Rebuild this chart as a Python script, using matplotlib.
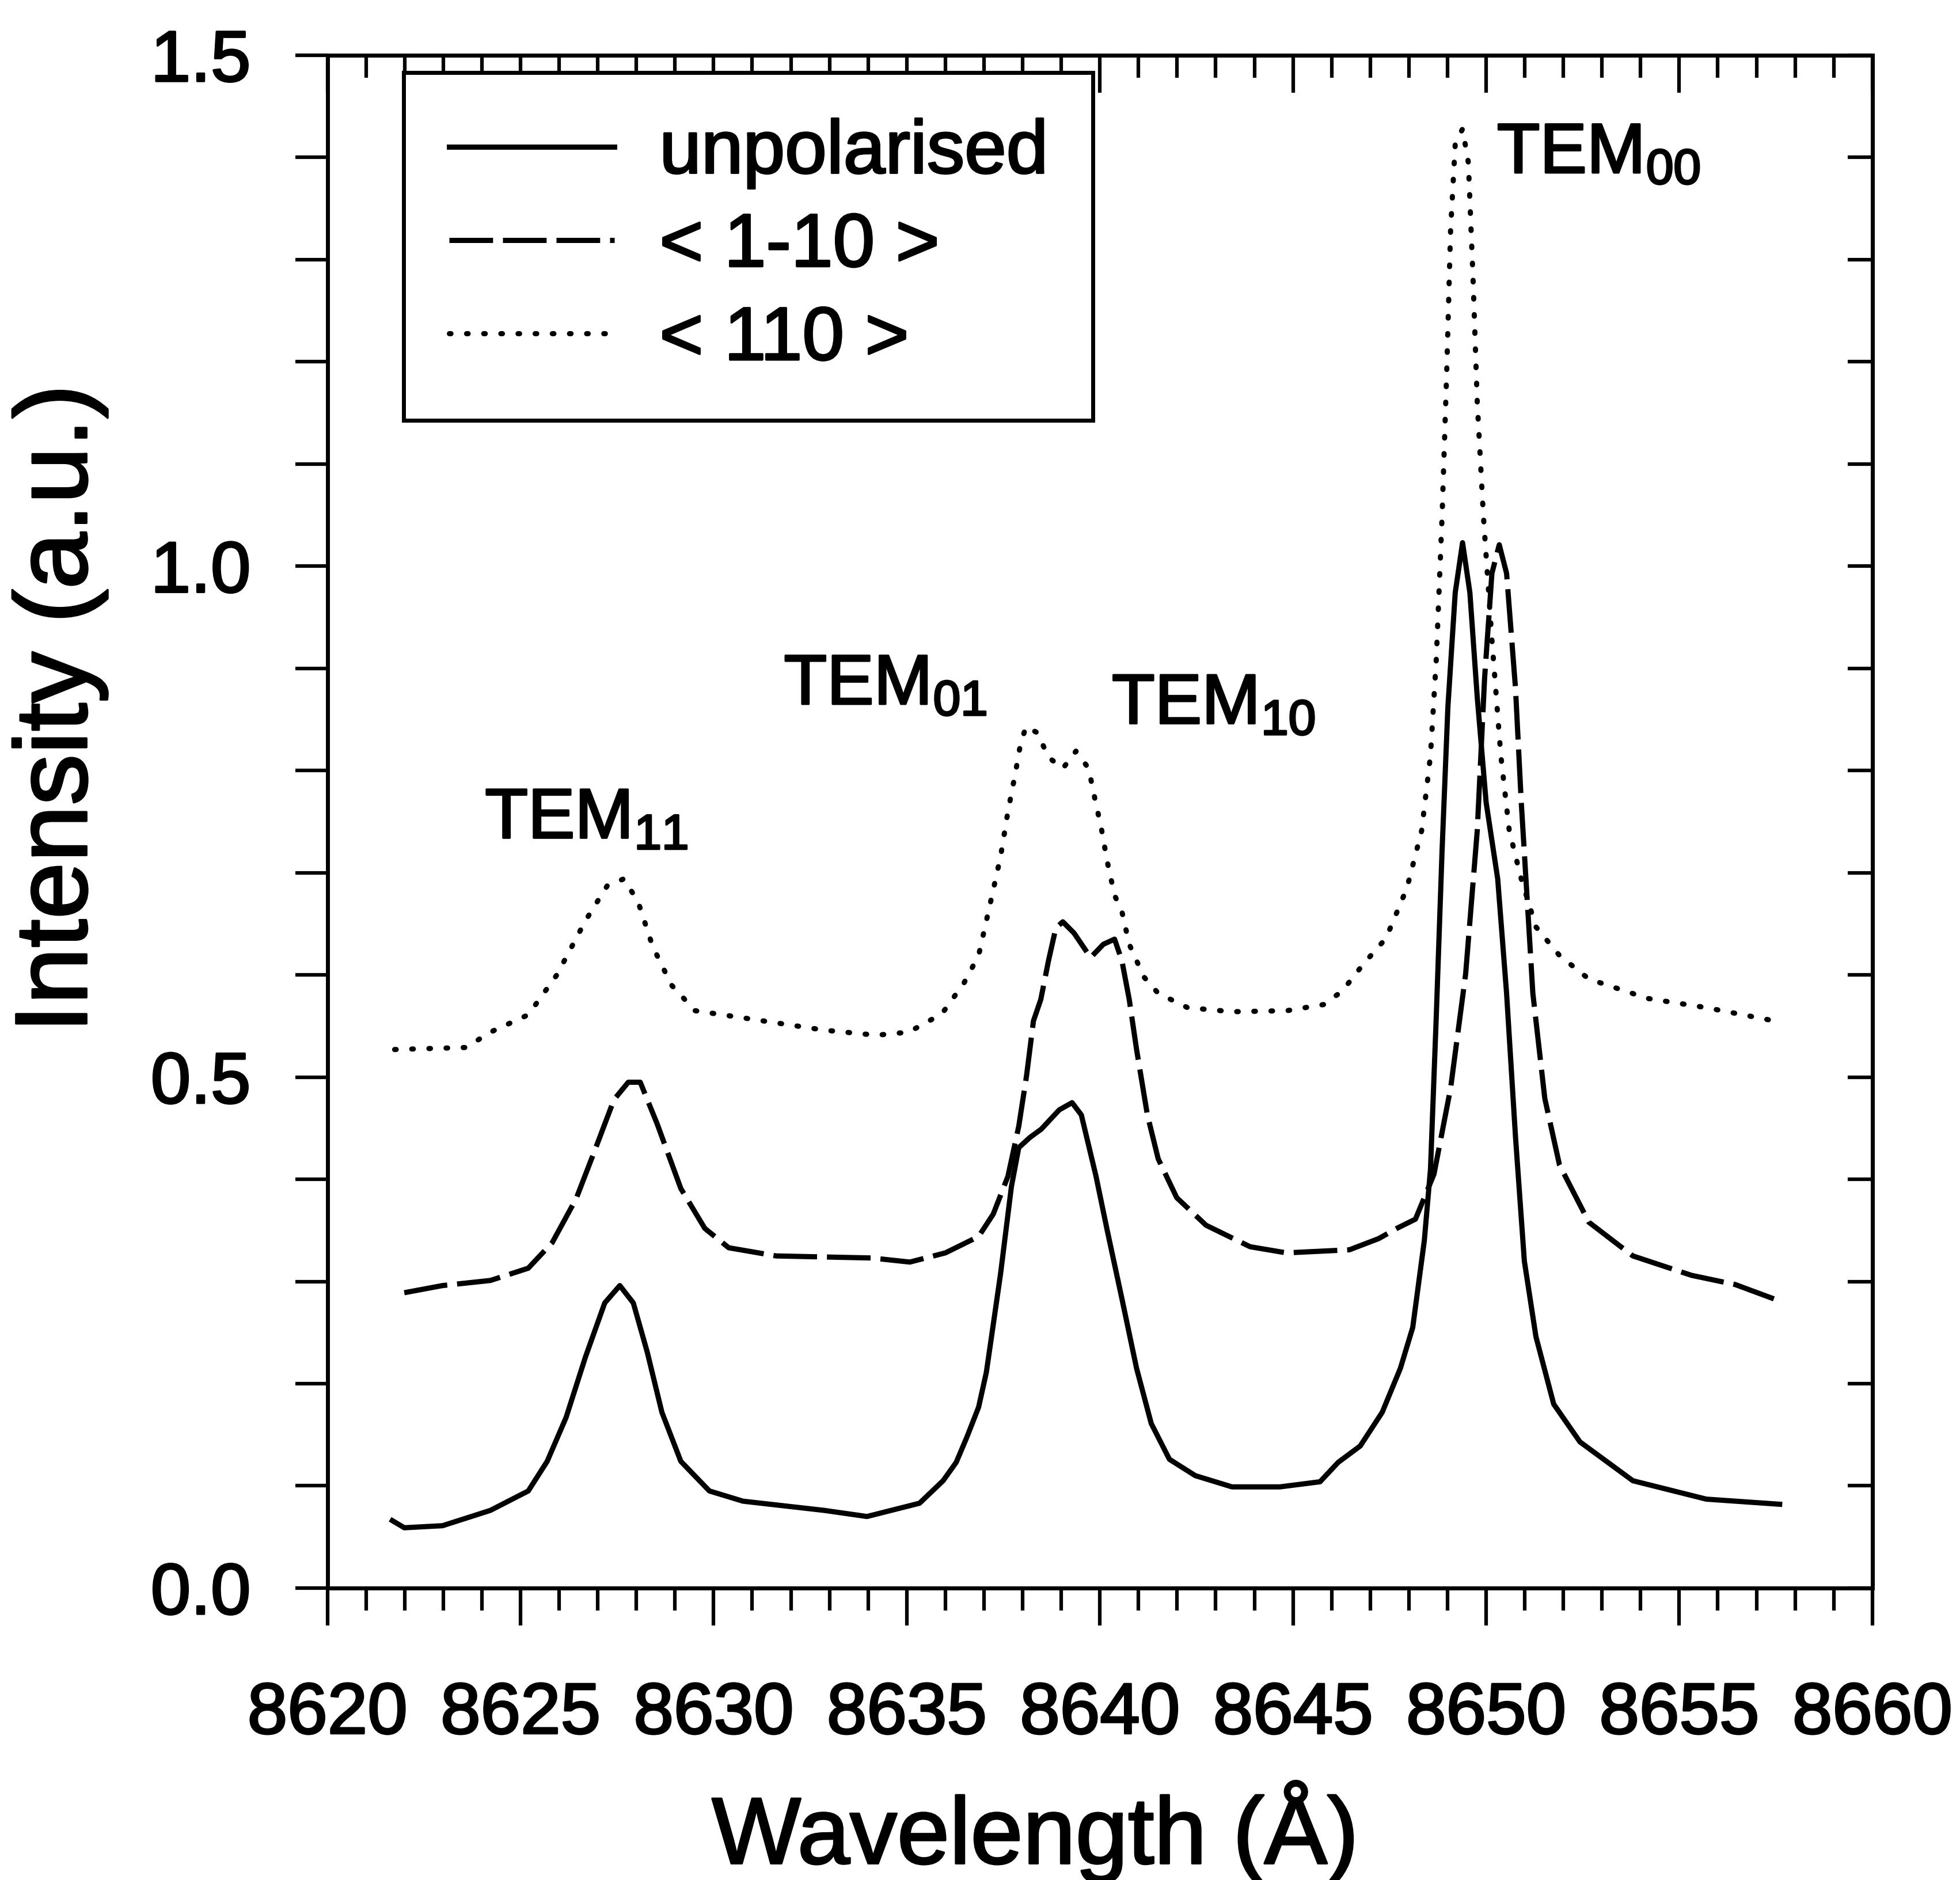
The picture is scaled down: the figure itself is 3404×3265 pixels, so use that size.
import numpy as np
import matplotlib
matplotlib.use('Agg')
import matplotlib.pyplot as plt
import matplotlib.patheffects as pe
from matplotlib.ticker import MultipleLocator, FormatStrFormatter

plt.rcParams['font.family'] = ['Liberation Sans', 'DejaVu Sans']
plt.rcParams['mathtext.fontset'] = 'custom'
plt.rcParams['mathtext.rm'] = 'Liberation Sans'
plt.rcParams['mathtext.it'] = 'Liberation Sans:italic'
plt.rcParams['mathtext.default'] = 'regular'

# unpolarised spectrum
wl_unpol = [8621.68, 8621.99, 8622.98, 8624.22, 8625.2, 8625.69, 8626.18, 8626.68, 8627.18,
            8627.57, 8627.92, 8628.28, 8628.66, 8629.15, 8629.89, 8630.76, 8632.86, 8633.97,
            8635.33, 8635.94, 8636.28, 8636.56, 8636.86, 8637.06, 8637.24, 8637.43, 8637.71,
            8637.9, 8638.19, 8638.48, 8638.95, 8639.28, 8639.52, 8639.9, 8640.19, 8640.56,
            8640.95, 8641.33, 8641.8, 8642.47, 8643.42, 8644.66, 8645.7, 8646.17, 8646.74,
            8647.31, 8647.78, 8648.1, 8648.4, 8648.56, 8648.71, 8648.86, 8649.01, 8649.2,
            8649.39, 8649.58, 8649.77, 8650.0, 8650.3, 8650.53, 8650.76, 8650.99, 8651.29,
            8651.75, 8652.43, 8653.8, 8655.7, 8657.6]
int_unpol = [0.066, 0.059, 0.061, 0.076, 0.095, 0.124, 0.167, 0.226, 0.279,
             0.296, 0.279, 0.231, 0.172, 0.124, 0.095, 0.085, 0.076, 0.070,
             0.083, 0.105, 0.123, 0.148, 0.177, 0.211, 0.258, 0.308, 0.393,
             0.431, 0.441, 0.449, 0.468, 0.475, 0.463, 0.403, 0.350, 0.285,
             0.215, 0.161, 0.126, 0.110, 0.099, 0.099, 0.104, 0.123, 0.139,
             0.172, 0.215, 0.255, 0.340, 0.410, 0.560, 0.722, 0.862, 0.974,
             1.023, 0.974, 0.872, 0.769, 0.694, 0.582, 0.442, 0.320, 0.246,
             0.180, 0.143, 0.105, 0.087, 0.082]

# < 1-10 > polarisation
wl_1m10 = [8621.99, 8622.98, 8624.22, 8625.2, 8625.82, 8626.44, 8626.93, 8627.42, 8627.79,
           8628.1, 8628.54, 8629.15, 8629.77, 8630.39, 8631.62, 8634.09, 8635.08, 8636.0,
           8636.86, 8637.24, 8637.62, 8637.9, 8638.1, 8638.28, 8638.47, 8638.67, 8638.86,
           8639.04, 8639.33, 8639.76, 8640.09, 8640.38, 8640.57, 8640.76, 8640.95, 8641.23,
           8641.51, 8641.99, 8642.75, 8643.89, 8644.83, 8646.46, 8647.22, 8647.69, 8648.17,
           8648.65, 8649.08, 8649.47, 8649.77, 8649.96, 8650.15, 8650.34, 8650.53, 8650.76,
           8650.91, 8651.06, 8651.21, 8651.52, 8651.9, 8652.66, 8653.8, 8655.32, 8656.45,
           8657.45]
int_1m10 = [0.289, 0.296, 0.301, 0.313, 0.338, 0.381, 0.429, 0.478, 0.495,
            0.495, 0.454, 0.391, 0.352, 0.333, 0.325, 0.323, 0.319, 0.328,
            0.344, 0.366, 0.403, 0.452, 0.501, 0.555, 0.576, 0.614, 0.646,
            0.652, 0.641, 0.617, 0.630, 0.635, 0.614, 0.576, 0.527, 0.463,
            0.420, 0.382, 0.355, 0.334, 0.328, 0.331, 0.342, 0.352, 0.361,
            0.405, 0.489, 0.601, 0.741, 0.890, 0.993, 1.021, 0.993, 0.881,
            0.769, 0.676, 0.582, 0.479, 0.414, 0.358, 0.325, 0.306, 0.297,
            0.283]

# < 110 > polarisation
wl_110 = [8621.74, 8623.59, 8624.22, 8625.2, 8625.94, 8626.68, 8627.24, 8627.67, 8628.04,
          8628.42, 8628.91, 8629.52, 8630.76, 8632.86, 8634.21, 8635.05, 8635.91, 8636.48,
          8636.86, 8637.15, 8637.43, 8637.62, 8637.81, 8637.95, 8638.09, 8638.38, 8638.67,
          8639.04, 8639.38, 8639.71, 8639.85, 8640.04, 8640.19, 8640.38, 8640.57, 8640.76,
          8641.14, 8641.51, 8642.27, 8643.42, 8644.84, 8645.79, 8646.27, 8646.83, 8647.41,
          8647.95, 8648.33, 8648.56, 8648.71, 8648.86, 8648.98, 8649.08, 8649.2, 8649.39,
          8649.54, 8649.66, 8649.77, 8649.93, 8650.15, 8650.38, 8650.6, 8650.91, 8651.29,
          8651.9, 8652.66, 8654.18, 8655.7, 8657.6]
int_110 = [0.527, 0.529, 0.544, 0.561, 0.600, 0.653, 0.687, 0.694, 0.672,
           0.628, 0.590, 0.565, 0.558, 0.546, 0.541, 0.544, 0.562, 0.592,
           0.619, 0.668, 0.716, 0.760, 0.797, 0.827, 0.843, 0.837, 0.813,
           0.802, 0.819, 0.802, 0.776, 0.743, 0.711, 0.678, 0.662, 0.630,
           0.598, 0.582, 0.568, 0.564, 0.565, 0.571, 0.584, 0.611, 0.636,
           0.685, 0.741, 0.815, 0.909, 1.049, 1.190, 1.329, 1.413, 1.428,
           1.395, 1.283, 1.161, 1.049, 0.928, 0.815, 0.741, 0.694, 0.647,
           0.619, 0.596, 0.577, 0.568, 0.554]

# mode labels and where they sit
mode_labels = ['TEM$_{00}$', 'TEM$_{01}$', 'TEM$_{10}$', 'TEM$_{11}$']
mode_wl = [8650.28, 8631.82, 8640.31, 8624.08]
mode_int = [1.385, 0.865, 0.846, 0.734]

# scanned look: text strokes a bit heavier than the regular face
heavy = [pe.withStroke(linewidth=2.5, foreground='k')]

fig = plt.figure(figsize=(34.05, 32.65), dpi=100)
ax = fig.add_axes([0.167, 0.1553, 0.788, 0.8153])

lw = 6.5
ax.plot(wl_unpol, int_unpol, color='k', lw=lw, ls='-', label='unpolarised')
ax.plot(wl_1m10, int_1m10, color='k', lw=lw, ls=(0, (8.4, 1.9)), label='< 1-10 >')
ax.plot(wl_110, int_110, color='k', lw=lw, ls=(0, (0.3, 3.0)),
        dash_capstyle='round', label='< 110 >')

for lab, x, y in zip(mode_labels, mode_wl, mode_int):
    ax.text(x, y, lab, fontsize=88, ha='left', va='baseline', path_effects=heavy)

ax.set_xlim(8620, 8660)
ax.set_ylim(0, 1.5)
ax.xaxis.set_major_locator(MultipleLocator(5))
ax.xaxis.set_minor_locator(MultipleLocator(1))
ax.yaxis.set_major_locator(MultipleLocator(0.5))
ax.yaxis.set_minor_locator(MultipleLocator(0.1))
ax.yaxis.set_major_formatter(FormatStrFormatter('%.1f'))

for sp in ax.spines.values():
    sp.set_linewidth(5)

ax.tick_params(axis='x', which='major', direction='out', length=47, width=4.5,
               labelsize=90, pad=70, top=False)
ax.tick_params(axis='x', which='minor', direction='out', length=28, width=4.5, top=False)
ax.tick_params(axis='y', which='major', direction='out', length=40, width=4.5,
               labelsize=90, pad=56, right=False)
ax.tick_params(axis='y', which='minor', direction='out', length=40, width=4.5, right=False)
for t in ax.get_xticklabels() + ax.get_yticklabels():
    t.set_path_effects(heavy)

# inward ticks on top and right
top = ax.secondary_xaxis('top')
top.xaxis.set_major_locator(MultipleLocator(5))
top.xaxis.set_minor_locator(MultipleLocator(1))
top.tick_params(which='major', direction='in', length=47, width=4.5, labeltop=False)
top.tick_params(which='minor', direction='in', length=28, width=4.5)
top.spines['top'].set_linewidth(5)

right = ax.secondary_yaxis('right')
right.yaxis.set_major_locator(MultipleLocator(0.5))
right.yaxis.set_minor_locator(MultipleLocator(0.1))
right.tick_params(which='both', direction='in', length=31, width=4.5, labelright=False)
right.spines['right'].set_linewidth(5)

fig.text(0.528, 0.0255, 'Wavelength (Å)', fontsize=118, ha='center', va='center',
         path_effects=heavy)
fig.text(0.0306, 0.623, 'Intensity (a.u.)', fontsize=128, ha='center', va='center',
         rotation=90, path_effects=heavy)

leg = ax.legend(loc='upper left', bbox_to_anchor=(0.206, 0.9614),
                bbox_transform=fig.transFigure, fontsize=94, frameon=True,
                fancybox=False, edgecolor='k', framealpha=1, borderaxespad=0,
                handlelength=2.2, handletextpad=0.6, borderpad=0.6,
                labelspacing=0.3)
leg.get_frame().set_linewidth(5)
for t in leg.get_texts():
    t.set_path_effects(heavy)

fig.savefig('out.png', dpi=100)
